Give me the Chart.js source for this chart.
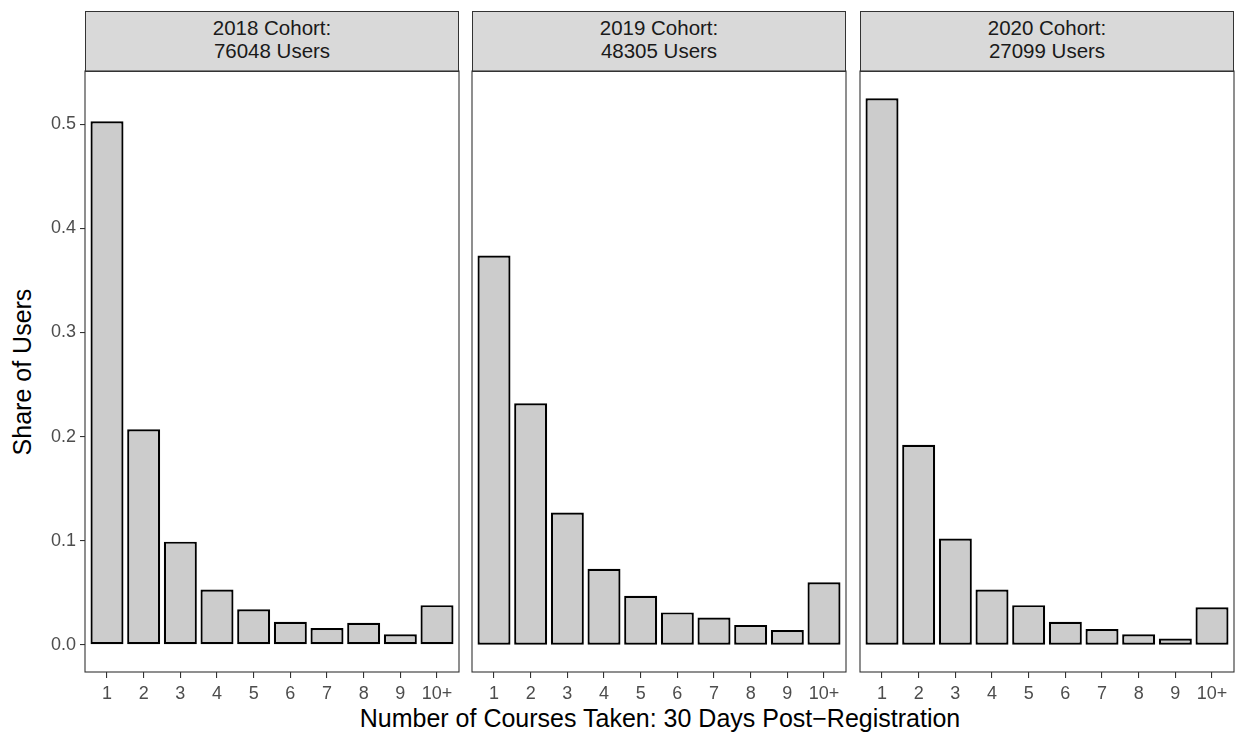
<!DOCTYPE html>
<html>
<head>
<meta charset="utf-8">
<script src="https://cdn.jsdelivr.net/npm/chart.js@4.4.1/dist/chart.umd.min.js"></script>
<style>
  body { margin:0; background:#fff; font-family:"Liberation Sans", Arial, sans-serif; }
  #wrap { position:relative; width:1238px; height:734px; overflow:hidden; }
  canvas { position:absolute; }
  .strip { position:absolute; box-sizing:border-box; background:#D9D9D9; border:1.1px solid #333;
           color:#1A1A1A; font-size:20.5px; line-height:23px; text-align:center; padding-top:4px; }
  #ytitle { position:absolute; left:22px; top:372px; transform:translate(-50%,-50%) rotate(-90deg);
            font-size:25px; white-space:nowrap; color:#000; }
  #xtitle { position:absolute; left:660px; top:718px; transform:translate(-50%,-50%);
            font-size:25px; white-space:nowrap; color:#000; }
</style>
</head>
<body>
<div id="wrap">
  <div id="ytitle">Share of Users</div>
  <div id="xtitle">Number of Courses Taken: 30 Days Post−Registration</div>
</div>
<script>
// data
const cohorts = ["2018 Cohort:", "2019 Cohort:", "2020 Cohort:"];
const cohortUsers = ["76048 Users", "48305 Users", "27099 Users"];
const courseLabels = ["1", "2", "3", "4", "5", "6", "7", "8", "9", "10+"];
const share2018 = [0.503, 0.207, 0.099, 0.053, 0.034, 0.022, 0.016, 0.021, 0.010, 0.038];
const share2019 = [0.374, 0.232, 0.127, 0.073, 0.047, 0.031, 0.026, 0.019, 0.014, 0.060];
const share2020 = [0.525, 0.192, 0.102, 0.053, 0.038, 0.022, 0.015, 0.010, 0.006, 0.036];
const yTicks = [0, 0.1, 0.2, 0.3, 0.4, 0.5];

const allShares = [share2018, share2019, share2020];
const panelLeft = [85, 472, 860];
const panelW = 374;
const panelTop = 71, panelH = 601;
const xAxisH = 36, yAxisW = 85;

const wrap = document.getElementById("wrap");

const panelBorder = {
  id: "panelBorder",
  afterDraw(chart) {
    const a = chart.chartArea, c = chart.ctx;
    c.save();
    c.strokeStyle = "#333333";
    c.lineWidth = 1.1;
    c.strokeRect(a.left, a.top, a.right - a.left, a.bottom - a.top);
    c.restore();
  }
};

for (let i = 0; i < 3; i++) {
  // strip header
  const s = document.createElement("div");
  s.className = "strip";
  s.style.left = panelLeft[i] + "px";
  s.style.top = "10.5px";
  s.style.width = panelW + "px";
  s.style.height = (panelTop - 10.5 + 0.5) + "px";
  s.innerHTML = cohorts[i] + "<br>" + cohortUsers[i];
  wrap.appendChild(s);

  const first = i === 0;
  const padL = first ? 0 : 2;
  const cv = document.createElement("canvas");
  const left = first ? 0 : panelLeft[i] - padL;
  const w = (first ? panelLeft[i] + panelW : panelW + padL) + 2;
  const h = 2 + panelH + xAxisH;
  cv.style.left = left + "px";
  cv.style.top = (panelTop - 2) + "px";
  cv.style.width = w + "px";
  cv.style.height = h + "px";
  cv.width = w; cv.height = h;
  wrap.appendChild(cv);

  new Chart(cv, {
    type: "bar",
    data: {
      datasets: [{
        data: allShares[i].map((v, k) => ({ x: k + 1, y: v })),
        backgroundColor: "#CCCCCC",
        borderColor: "#000000",
        borderWidth: 2.2,
        borderSkipped: false,
        barPercentage: 0.9,
        categoryPercentage: 1
      }]
    },
    options: {
      responsive: false,
      animation: false,
      layout: { padding: { left: padL, right: 2, top: 2, bottom: 0 } },
      plugins: { legend: { display: false }, tooltip: { enabled: false } },
      scales: {
        x: {
          type: "linear",
          offset: false,
          min: 0.4, max: 10.6,
          afterBuildTicks: sc => { sc.ticks = courseLabels.map((l, k) => ({ value: k + 1 })); },
          afterFit: sc => { sc.height = xAxisH; sc.paddingLeft = 0; sc.paddingRight = 0; },
          grid: { offset: false, drawOnChartArea: false, tickLength: 6, tickColor: "#333333", lineWidth: 1.1 },
          border: { display: false },
          ticks: {
            autoSkip: false, maxRotation: 0, padding: 5,
            color: "#4D4D4D",
            font: { family: "Liberation Sans", size: 18 },
            callback: v => courseLabels[v - 1]
          }
        },
        y: {
          display: first,
          min: -0.02625, max: 0.55125,
          afterBuildTicks: sc => { sc.ticks = yTicks.map(v => ({ value: v })); },
          afterFit: sc => {
            if (first) sc.width = yAxisW;
            sc.paddingTop = 0; sc.paddingBottom = 0;
          },
          grid: { drawOnChartArea: false, tickLength: 5, tickColor: "#333333", lineWidth: 1.1 },
          border: { display: false },
          ticks: {
            padding: 4,
            color: "#4D4D4D",
            font: { family: "Liberation Sans", size: 18 },
            callback: v => v.toFixed(1)
          }
        }
      }
    },
    plugins: [panelBorder]
  });
}
</script>
</body>
</html>
